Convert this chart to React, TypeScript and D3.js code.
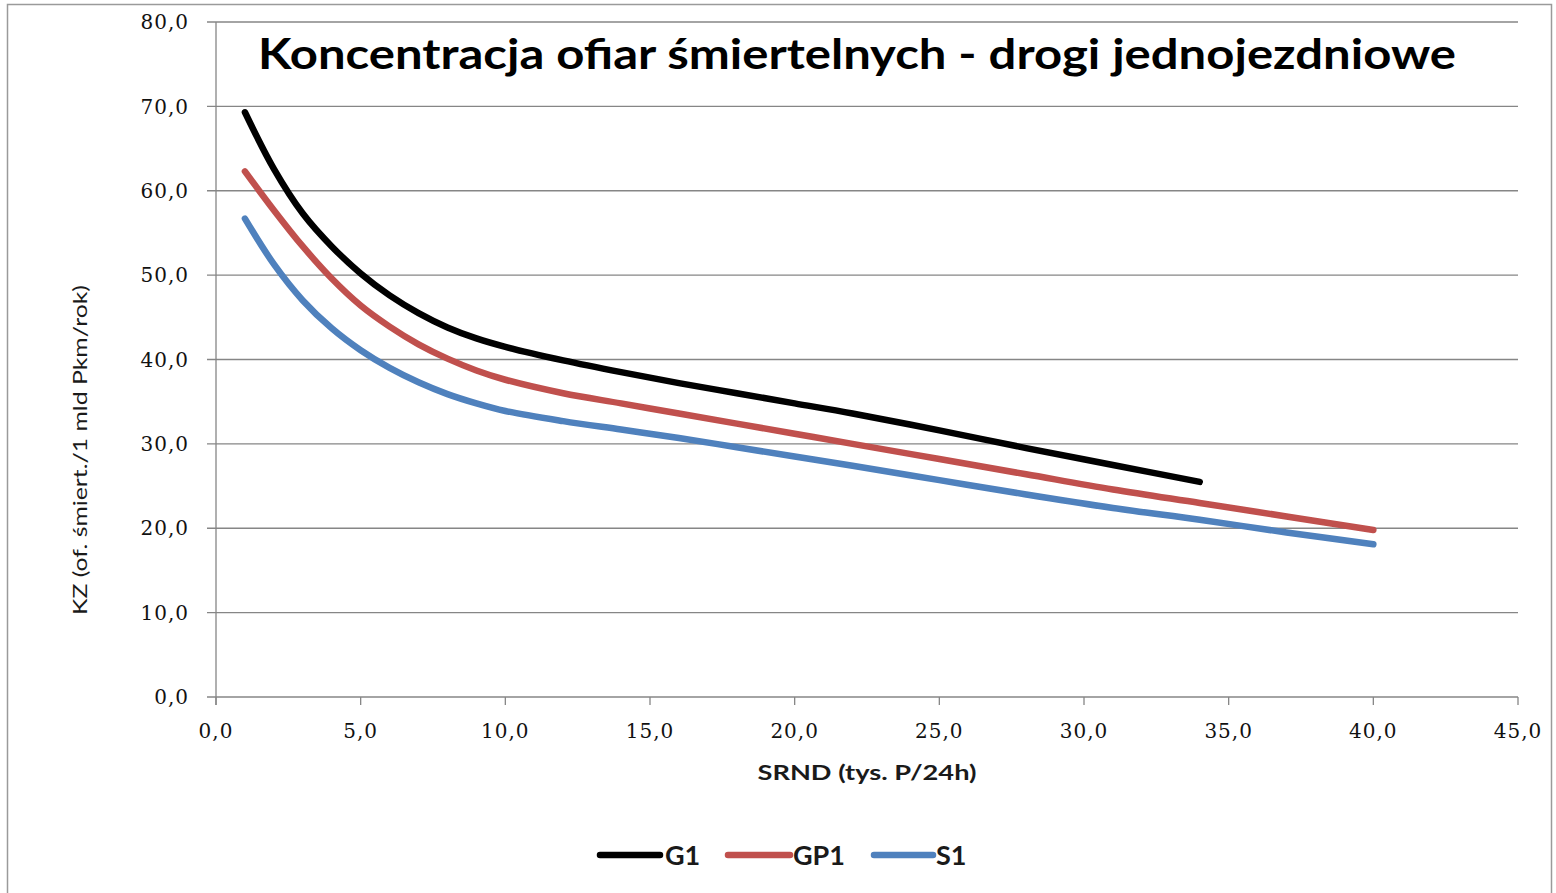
import React from "react";
import * as d3 from "d3";

// SRND (tys. P/24h) – wspólne punkty na osi X
const srnd = [1, 2, 3, 4, 5, 6, 7, 8, 9, 10, 12, 14, 16, 18, 20, 22, 25, 28, 31, 34, 37, 40];

// wartości KZ
const g1 = [69.3, 62.6, 57.3, 53.4, 50.2, 47.6, 45.5, 43.8, 42.5, 41.5, 39.9, 38.5, 37.2, 36.0, 34.8, 33.6, 31.6, 29.5, 27.5, 25.5];
const gp1 = [62.3, 57.7, 53.4, 49.6, 46.4, 43.9, 41.8, 40.1, 38.7, 37.6, 36.0, 34.8, 33.6, 32.4, 31.2, 30.0, 28.2, 26.4, 24.6, 23.0, 21.4, 19.8];
const s1 = [56.7, 51.3, 47.0, 43.7, 41.1, 39.0, 37.3, 35.9, 34.8, 33.9, 32.7, 31.7, 30.7, 29.6, 28.5, 27.4, 25.7, 24.0, 22.4, 21.0, 19.5, 18.1];

const seriesNames = ["G1", "GP1", "S1"];
const seriesColors = ["#000000", "#C0504D", "#4F81BD"];
const xTicks = [0, 5, 10, 15, 20, 25, 30, 35, 40, 45];
const yTicks = [0, 10, 20, 30, 40, 50, 60, 70, 80];

const title = "Koncentracja ofiar śmiertelnych - drogi jednojezdniowe";
const xLabel = "SRND (tys. P/24h)";
const yLabel = "KZ (of. śmiert./1 mld Pkm/rok)";

export default function App() {
  const width = 1556;
  const height = 893;
  const plot = { left: 216, right: 1518, top: 22, bottom: 697 };

  const xScale = d3.scaleLinear().domain([0, 45]).range([plot.left, plot.right]);
  const yScale = d3.scaleLinear().domain([0, 80]).range([plot.bottom, plot.top]);

  const line = d3
    .line<[number, number]>()
    .x((d) => xScale(d[0]))
    .y((d) => yScale(d[1]))
    .curve(d3.curveCatmullRom.alpha(0.5));

  const series = [g1, gp1, s1].map((vals, i) => ({
    name: seriesNames[i],
    color: seriesColors[i],
    points: vals.map((v, j) => [srnd[j], v] as [number, number]),
  }));

  const fmt = (v: number) => v.toFixed(1).replace(".", ",");
  const tickFont = "'DejaVu Serif', serif";
  const labelFont = "Lato, 'Open Sans', sans-serif";

  // legenda
  const legend = [
    { x1: 600, x2: 660, tx: 665 },
    { x1: 728, x2: 790, tx: 793 },
    { x1: 874, x2: 933, tx: 936 },
  ];
  const legendY = 855;

  return (
    <svg
      width={width}
      height={height}
      style={{ position: "absolute", left: 0, top: 0, background: "#fff" }}
    >
      <rect x={7.5} y={4.5} width={1544} height={896} fill="#fff" stroke="#9a9a9a" strokeWidth={1.5} />

      {/* siatka i oś Y */}
      {yTicks.map((t) => (
        <g key={t}>
          <line
            x1={plot.left - 9}
            x2={plot.right}
            y1={yScale(t)}
            y2={yScale(t)}
            stroke="#868686"
            strokeWidth={1.3}
          />
          <text
            x={189}
            y={yScale(t)}
            dy="0.36em"
            textAnchor="end"
            fontFamily={tickFont}
            fontSize={20}
            letterSpacing={1}
            fill="#111"
          >
            {fmt(t)}
          </text>
        </g>
      ))}
      <line x1={plot.left} x2={plot.left} y1={plot.top} y2={plot.bottom + 8} stroke="#868686" strokeWidth={1.3} />

      {/* oś X */}
      {xTicks.map((t) => (
        <g key={t}>
          <line x1={xScale(t)} x2={xScale(t)} y1={plot.bottom} y2={plot.bottom + 8} stroke="#868686" strokeWidth={1.3} />
          <text
            x={xScale(t)}
            y={731}
            dy="0.36em"
            textAnchor="middle"
            fontFamily={tickFont}
            fontSize={20}
            letterSpacing={1}
            fill="#111"
          >
            {fmt(t)}
          </text>
        </g>
      ))}

      {/* serie */}
      {series.map((s) => (
        <path
          key={s.name}
          d={line(s.points) || ""}
          fill="none"
          stroke={s.color}
          strokeWidth={6.5}
          strokeLinecap="round"
          strokeLinejoin="round"
        />
      ))}

      {/* tytuł */}
      <text
        x={857}
        y={69}
        textAnchor="middle"
        fontFamily={labelFont}
        fontWeight="bold"
        fontSize={42}
        textLength={1198}
        lengthAdjust="spacingAndGlyphs"
        fill="#000"
      >
        {title}
      </text>

      {/* etykiety osi */}
      <text
        x={867}
        y={780}
        textAnchor="middle"
        fontFamily={labelFont}
        fontWeight="bold"
        fontSize={21}
        textLength={219}
        lengthAdjust="spacingAndGlyphs"
        fill="#1a1a1a"
      >
        {xLabel}
      </text>
      <text
        transform={`translate(87,450) rotate(-90)`}
        textAnchor="middle"
        fontFamily={labelFont}
        fontSize={19}
        textLength={330}
        lengthAdjust="spacingAndGlyphs"
        fill="#1a1a1a"
      >
        {yLabel}
      </text>

      {/* legenda */}
      {series.map((s, i) => (
        <g key={s.name}>
          <line
            x1={legend[i].x1}
            x2={legend[i].x2}
            y1={legendY}
            y2={legendY}
            stroke={s.color}
            strokeWidth={6.5}
            strokeLinecap="round"
          />
          <text
            x={legend[i].tx}
            y={legendY}
            dy="0.36em"
            fontFamily={labelFont}
            fontWeight="bold"
            fontSize={27}
            fill="#1a1a1a"
          >
            {s.name}
          </text>
        </g>
      ))}
    </svg>
  );
}
